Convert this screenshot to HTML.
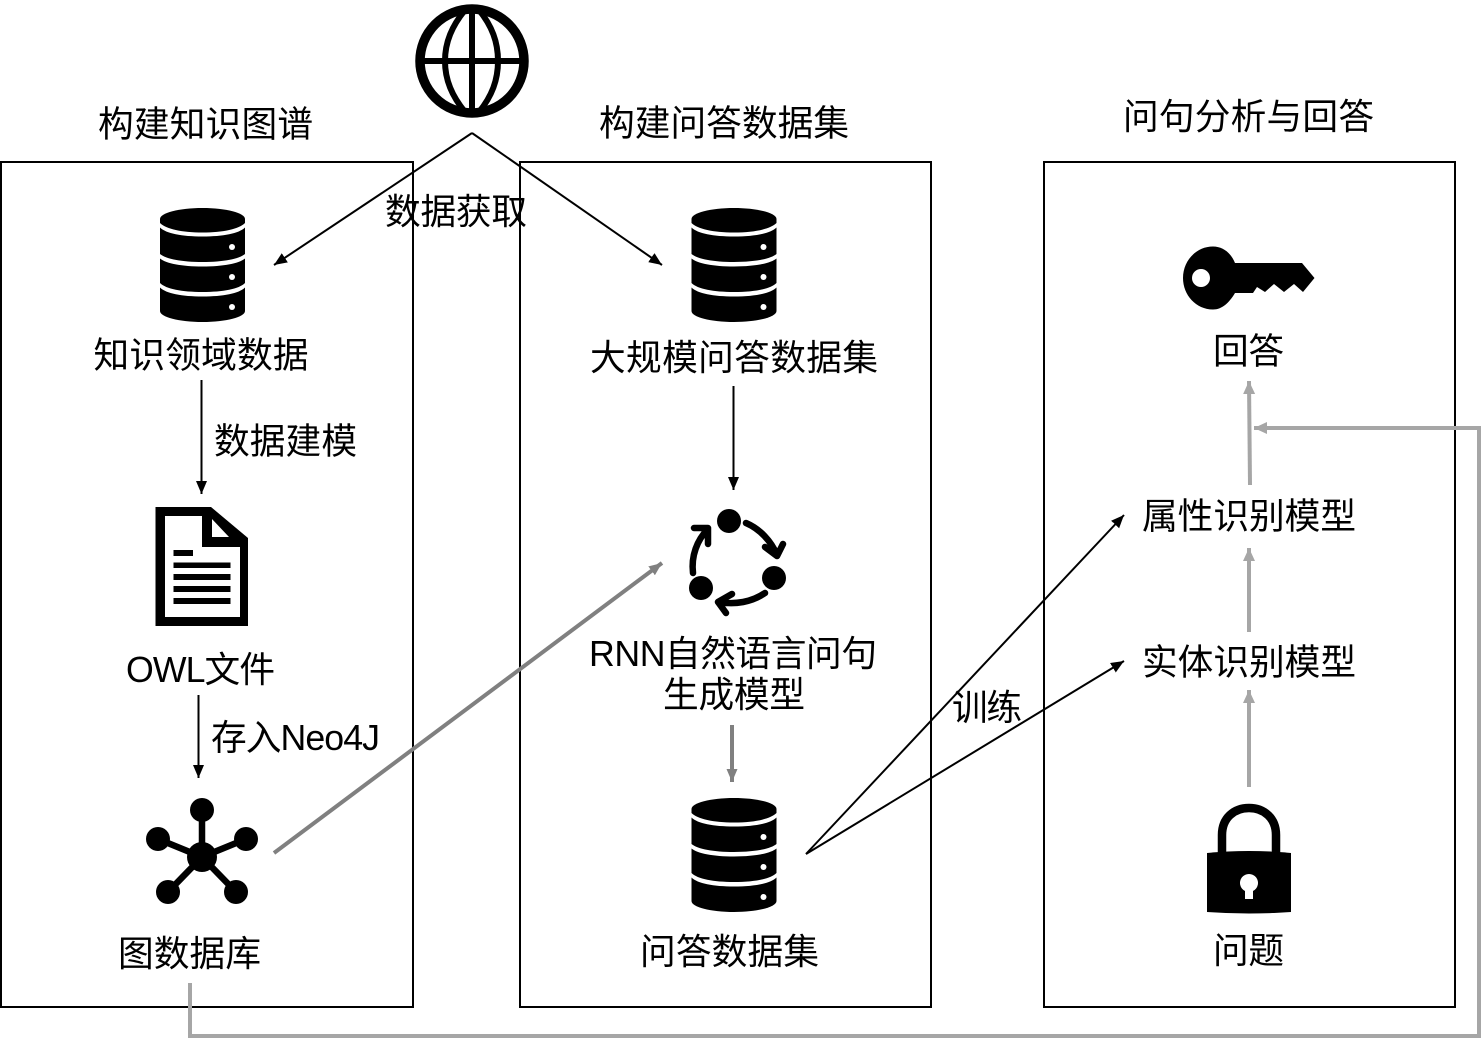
<!DOCTYPE html>
<html lang="zh">
<head>
<meta charset="utf-8">
<title>系统框架图</title>
<style>
html,body{margin:0;padding:0;background:#fff;}
svg{display:block;}
text{font-family:"Liberation Sans","Noto Sans CJK SC",sans-serif;font-size:35.7px;fill:#000;}
</style>
</head>
<body>
<svg xmlns="http://www.w3.org/2000/svg" width="1483" height="1040" viewBox="0 0 1483 1040">
<defs>
<marker id="hb" markerUnits="userSpaceOnUse" markerWidth="14" markerHeight="12" refX="13" refY="5.5" orient="auto"><path d="M0 0L13 5.5L0 11Z" fill="#000"/></marker>
<marker id="hg" markerUnits="userSpaceOnUse" markerWidth="14" markerHeight="12" refX="13" refY="5.5" orient="auto"><path d="M0 0L13 5.5L0 11Z" fill="#808080"/></marker>
<marker id="hl" markerUnits="userSpaceOnUse" markerWidth="14" markerHeight="14" refX="13" refY="6" orient="auto"><path d="M0 0L13 6L0 12Z" fill="#a6a6a6"/></marker>
<g id="db">
<path d="M0 11C0 5 19 0 42.5 0S85 5 85 11V103C85 109 66 114 42.5 114S0 109 0 103Z" fill="#000"/>
<path d="M0 15C6 21 22 24.500 42.500 24.500S79 21 85 15V19.500C79 25.500 63 28.500 42.500 28.500S6 25.500 0 19.500Z" fill="#fff"/>
<path d="M0 46C6 51 22 54 42.500 54S79 51 85 46V50.500C79 55.500 63 58.500 42.500 58.500S6 55.500 0 50.500Z" fill="#fff"/>
<path d="M0 75C6 81 22 84 42.500 84S79 81 85 75V79.500C79 85.500 63 88.500 42.500 88.500S6 85.500 0 79.500Z" fill="#fff"/>
<circle cx="72" cy="39" r="3" fill="#fff"/><circle cx="72" cy="69" r="3" fill="#fff"/><circle cx="72" cy="99" r="3" fill="#fff"/>
</g>
</defs>

<rect x="1" y="162" width="412" height="845" fill="none" stroke="#000" stroke-width="2"/>
<rect x="520" y="162" width="411" height="845" fill="none" stroke="#000" stroke-width="2"/>
<rect x="1044" y="162" width="411" height="845" fill="none" stroke="#000" stroke-width="2"/>

<!-- globe -->
<g fill="none" stroke="#000">
<circle cx="472" cy="61" r="52" stroke-width="9.500"/>
<path d="M472 7V115M420 61H524" stroke-width="6"/>
<path d="M465 10C452 26 445 42 445 61S452 96 465 112M479 10C492 26 498 42 498 61S492 96 479 112" stroke-width="6"/>
</g>

<!-- databases -->
<use href="#db" x="160" y="208"/>
<use href="#db" x="691.500" y="208"/>
<use href="#db" x="691.500" y="798"/>

<!-- document -->
<path fill-rule="evenodd" fill="#000" d="M155.500 507H211L248 538V626H155.500ZM165 516V617H240V547H202V516ZM212 519V537H229Z"/>
<path fill="#000" d="M173.500 550H193V556H173.500ZM173.500 562.500H230.500V568H173.500ZM173.500 574H230.500V580H173.500ZM173.500 586H230.500V592H173.500ZM173.500 598H230.500V604H173.500Z"/>

<!-- graph -->
<g stroke="#000" stroke-width="6.500" fill="#000">
<path d="M202 857V809M202 857L158 839M202 857L246 839M202 857L168 892M202 857L236 892" fill="none"/>
<g stroke="none">
<circle cx="202" cy="857" r="15"/><circle cx="202" cy="810" r="12"/><circle cx="158" cy="839" r="12"/><circle cx="246" cy="839" r="12"/><circle cx="168" cy="892" r="12"/><circle cx="236" cy="892" r="12"/>
</g>
</g>

<!-- cycle -->
<g fill="#000"><circle cx="729" cy="521" r="12"/><circle cx="774" cy="578" r="12"/><circle cx="701" cy="588" r="12"/></g>
<g fill="none" stroke="#000" stroke-width="6.500" stroke-linecap="round" stroke-linejoin="round">
<path d="M746 523C760 529 771 541 777 555M765 547L777 556L783 544"/>
<path d="M765 593C752 602 735 605 719 602M732 594L718 602L726 613"/>
<path d="M693 573C691 556 697 540 708 529M694 528H708V544"/>
</g>

<!-- key -->
<path fill="#000" fill-rule="evenodd" d="M1235 263H1302L1314.500 278L1303 292L1294 284L1284 292L1274 284L1265 292L1257 287L1253 293H1235C1229 303 1222 309.500 1213 309.500C1196 309.500 1183 295 1183 278S1196 246.500 1213 246.500C1223 246.500 1231 253 1235 263ZM1201 269A9 9 0 1 0 1201 287A9 9 0 1 0 1201 269Z"/>

<!-- lock -->
<path d="M1222 856V835C1222 818 1234 808 1249 808S1276 818 1276 835V856" fill="none" stroke="#000" stroke-width="8.500"/>
<path fill="#000" d="M1207 853Q1249 849 1291 853V912Q1249 915 1207 912Z"/>
<path fill="#fff" d="M1245 891A9 9 0 1 1 1253 891V899H1245Z"/>

<!-- connectors -->
<g fill="none" stroke="#000" stroke-width="2">
<path d="M472 133L274 265" marker-end="url(#hb)"/>
<path d="M472 133L662 265" marker-end="url(#hb)"/>
<path d="M201.500 380V494" marker-end="url(#hb)"/>
<path d="M198.500 695V778" marker-end="url(#hb)"/>
<path d="M733.500 386V490" marker-end="url(#hb)"/>
<path d="M806 854L1124 515" marker-end="url(#hb)"/>
<path d="M806 854L1124 661" marker-end="url(#hb)"/>
</g>
<g fill="none" stroke="#808080" stroke-width="4">
<path d="M732 725V782" marker-end="url(#hg)"/>
<path d="M274 853L662 563" marker-end="url(#hg)"/>
</g>
<g fill="none" stroke="#a6a6a6" stroke-width="4">
<path d="M1249 787V690" marker-end="url(#hl)"/>
<path d="M1249 632V548" marker-end="url(#hl)"/>
<path d="M1250 485L1249 381" marker-end="url(#hl)"/>
<path d="M190 983V1036H1479V428H1254" marker-end="url(#hl)"/>
</g>

<!-- labels -->
<text x="98" y="136.500" textLength="215">构建知识图谱</text>
<text x="599" y="135.500" textLength="250">构建问答数据集</text>
<text x="1123" y="129" textLength="251">问句分析与回答</text>
<text x="385" y="224" textLength="142">数据获取</text>
<text x="93.500" y="367.500" textLength="215">知识领域数据</text>
<text x="214" y="453.500" textLength="143">数据建模</text>
<text x="126" y="682" textLength="149">OWL文件</text>
<text x="211" y="750" textLength="169">存入Neo4J</text>
<text x="118" y="966" textLength="143">图数据库</text>
<text x="590" y="370" textLength="288">大规模问答数据集</text>
<text x="589" y="666" textLength="288">RNN自然语言问句</text>
<text x="663" y="707" textLength="142">生成模型</text>
<text x="640" y="964" textLength="179">问答数据集</text>
<text x="952" y="720" textLength="70">训练</text>
<text x="1213" y="363.500" textLength="71">回答</text>
<text x="1142" y="528.500" textLength="214">属性识别模型</text>
<text x="1142" y="674.500" textLength="214">实体识别模型</text>
<text x="1213" y="963" textLength="71">问题</text>
</svg>
</body>
</html>
